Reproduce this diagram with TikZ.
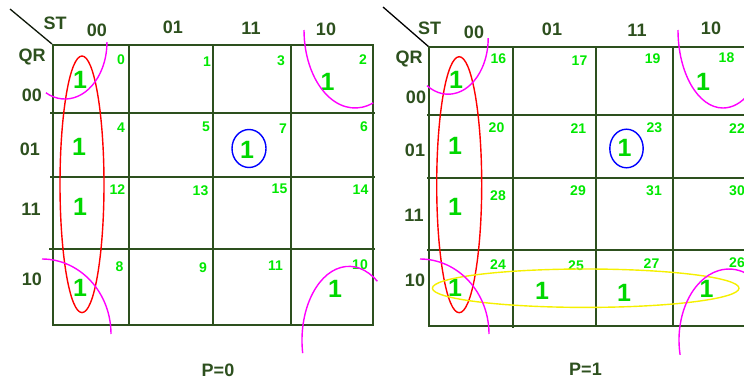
\documentclass[tikz,border=0pt]{standalone}
\usepackage{fontspec}
\setmainfont{Liberation Sans}
\usepackage{xcolor}
\usepackage{tikz}
\definecolor{gridgreen}{RGB}{45,80,30}
\definecolor{numgreen}{RGB}{0,232,0}
\definecolor{onegreen}{RGB}{0,215,0}
\definecolor{loopyellow}{RGB}{245,240,0}
\definecolor{looppink}{RGB}{255,0,255}
\definecolor{loopred}{RGB}{255,0,0}
\definecolor{loopblue}{RGB}{0,0,255}

\begin{document}
\begin{tikzpicture}[x=1pt, y=-1pt, lbl/.style={text=gridgreen, inner sep=0pt, font=\fontsize{18}{20}\selectfont\bfseries}, num/.style={text=numgreen, inner sep=0pt, font=\fontsize{14}{16}\selectfont\bfseries}, one/.style={text=onegreen, inner sep=0pt, font=\fontsize{25}{28}\selectfont\bfseries}, kgrid/.style={draw=gridgreen, line width=2.4pt}, ring/.style={line width=1.4pt}]
\useasboundingbox (0,0) rectangle (744,380);
\clip (0,0) rectangle (744,380);
\draw[black!70!gridgreen, line width=1.3pt] (10,9) -- (52,44);
\draw[kgrid] (53,45) rectangle (373,325);
\draw[kgrid] (129,45) -- (129,325);
\draw[kgrid] (213,45) -- (213,325);
\draw[kgrid] (291,45) -- (291,325);
\draw[kgrid] (50,113) -- (375,113);
\draw[kgrid] (50,177) -- (375,177);
\draw[kgrid] (49,249) -- (375,249);
\draw[black, line width=1.3pt] (383,7) -- (429,47);
\draw[kgrid] (429,47) rectangle (755,326);
\draw[kgrid] (513,47) -- (513,328);
\draw[kgrid] (596,47) -- (596,326);
\draw[kgrid] (673,47) -- (673,326);
\draw[kgrid] (427,115) -- (755,115);
\draw[kgrid] (427,178) -- (755,178);
\draw[kgrid] (427,250) -- (755,250);
\node[lbl] (stL) at (55,23) {ST};
\node[lbl] (qrL) at (32,57) {QR};
\node[lbl] (cL1) at (97,30) {00};
\node[lbl] (cL2) at (173,27) {01};
\node[lbl] (cL3) at (251,28.5) {11};
\node[lbl] (cL4) at (326,29) {10};
\node[lbl] (rL1) at (32,95) {00};
\node[lbl] (rL2) at (30,149) {01};
\node[lbl] (rL3) at (31,209) {11};
\node[lbl] (rL4) at (32,279) {10};
\node[lbl] (pL) at (218,370.5) {P=0};
\node[lbl] (stR) at (429.5,28) {ST};
\node[lbl] (qrR) at (409,59) {QR};
\node[lbl] (cR1) at (474,32) {00};
\node[lbl] (cR2) at (552,29.5) {01};
\node[lbl] (cR3) at (637,30) {11};
\node[lbl] (cR4) at (711,28) {10};
\node[lbl] (rR1) at (416,97) {00};
\node[lbl] (rR2) at (415,150) {01};
\node[lbl] (rR3) at (414,215) {11};
\node[lbl] (rR4) at (415,280) {10};
\node[lbl] (pR) at (585.5,369.5) {P=1};
\node[num] (m0) at (121,60) {0};
\node[num] (m1) at (207,62) {1};
\node[num] (m3) at (281,61) {3};
\node[num] (m2) at (363,60) {2};
\node[num] (m4) at (121,128) {4};
\node[num] (m5) at (206,127) {5};
\node[num] (m7) at (283,129) {7};
\node[num] (m6) at (364,127) {6};
\node[num] (m12) at (117.5,190) {12};
\node[num] (m13) at (200.5,191) {13};
\node[num] (m15) at (279.5,189) {15};
\node[num] (m14) at (360.5,190) {14};
\node[num] (m8) at (119.5,267) {8};
\node[num] (m9) at (203,267.5) {9};
\node[num] (m11) at (275.5,265.5) {11};
\node[num] (m10) at (360,264.5) {10};
\node[num] (m16) at (498.3,58.5) {16};
\node[num] (m17) at (579.5,60.5) {17};
\node[num] (m19) at (652.7,58.5) {19};
\node[num] (m18) at (726.5,57.5) {18};
\node[num] (m20) at (496.5,127.5) {20};
\node[num] (m21) at (578.3,129) {21};
\node[num] (m23) at (654.3,127.5) {23};
\node[num] (m22) at (737,129) {22};
\node[num] (m28) at (498,196) {28};
\node[num] (m29) at (578,191) {29};
\node[num] (m31) at (654,191) {31};
\node[num] (m30) at (737,191) {30};
\node[num] (m24) at (498,264.5) {24};
\node[num] (m25) at (576,266) {25};
\node[num] (m27) at (651.5,263.5) {27};
\node[num] (m26) at (737,262.5) {26};
\node[one] (o0) at (80,80) {1};
\node[one] (o4) at (79,146.5) {1};
\node[one] (o12) at (80,207) {1};
\node[one] (o8) at (80,288) {1};
\node[one] (o2) at (327.5,82) {1};
\node[one] (o7) at (247,150) {1};
\node[one] (o10) at (335,289) {1};
\node[one] (o16) at (456,80) {1};
\node[one] (o20) at (455,146) {1};
\node[one] (o28) at (455,207) {1};
\node[one] (o24) at (455,288) {1};
\node[one] (o18) at (703,81.5) {1};
\node[one] (o23) at (624.5,148) {1};
\node[one] (o25) at (542,290.5) {1};
\node[one] (o27) at (624,292.5) {1};
\node[one] (o26) at (706.5,289) {1};
\draw[ring, loopred] (82,184.3) ellipse [x radius=22, y radius=128.3];
\draw[ring, loopblue] (249,148.5) ellipse [x radius=17, y radius=19];
\draw[ring, looppink] (45.9,92.8) arc [start angle=117, end angle=0, x radius=42, y radius=57];
\draw[ring, looppink] (304,30) arc [start angle=180, end angle=69, x radius=51, y radius=78];
\draw[ring, looppink] (42,259) arc [start angle=270, end angle=360, x radius=69, y radius=75];
\draw[ring, looppink] (302.7,353.2) arc [start angle=170, end angle=307, x radius=47, y radius=74];
\draw[ring, loopred] (459.2,184.7) ellipse [x radius=22.5, y radius=128];
\draw[ring, loopblue] (626.5,148.5) ellipse [x radius=16.7, y radius=19.3];
\draw[ring, loopyellow] (585.7,288.2) ellipse [x radius=153.3, y radius=19.2];
\draw[ring, looppink] (427,85.7) arc [start angle=122, end angle=0, x radius=40, y radius=56];
\draw[ring, looppink] (678,30) arc [start angle=180, end angle=55, x radius=45, y radius=78];
\draw[ring, looppink] (420,259) arc [start angle=270, end angle=360, x radius=69, y radius=75];
\draw[ring, looppink] (680.1,354.8) arc [start angle=168, end angle=320, x radius=50, y radius=71];
\end{tikzpicture}
\end{document}
